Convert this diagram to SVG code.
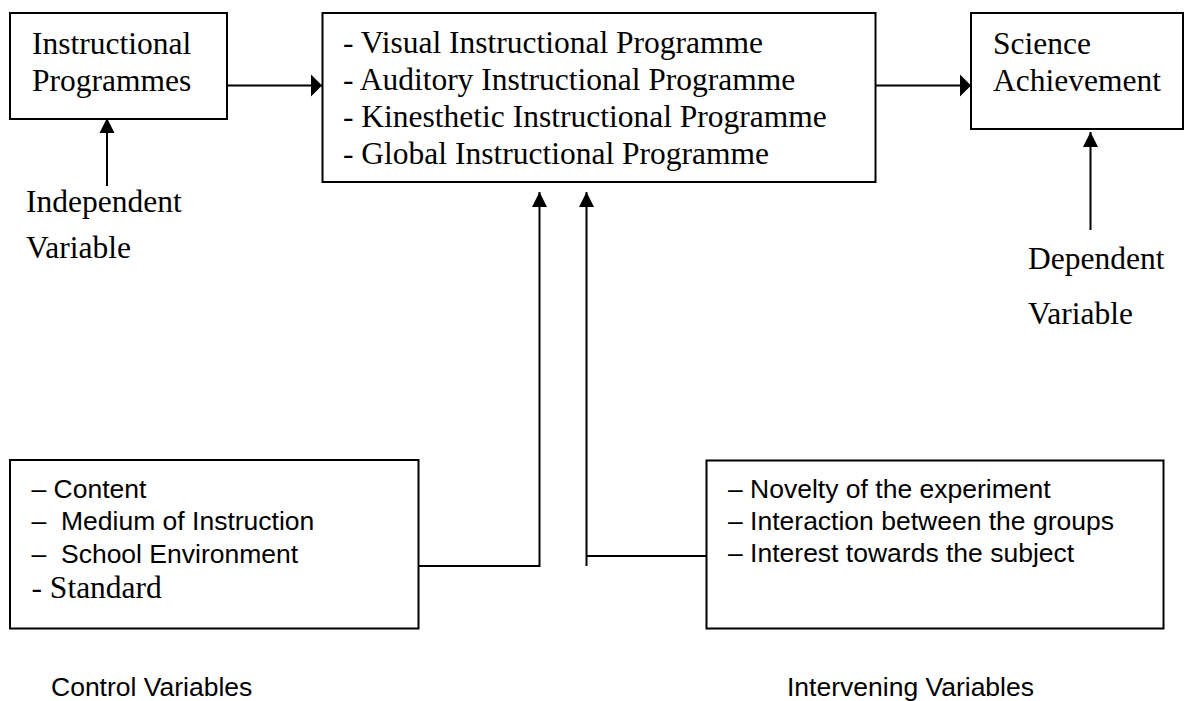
<svg xmlns="http://www.w3.org/2000/svg" width="1185" height="701" viewBox="0 0 1185 701">
<style>
.box{fill:#fff;stroke:#000;stroke-width:2}
.ln{fill:none;stroke:#000;stroke-width:2}
.serif{font-family:"Liberation Serif","Times New Roman",serif;font-size:31.5px;fill:#000}
.sans{font-family:"Liberation Sans",Arial,sans-serif;font-size:26.5px;fill:#000;white-space:pre}
</style>
<defs>
<marker id="mh" markerUnits="userSpaceOnUse" markerWidth="12" markerHeight="24" refX="11" refY="12" orient="auto"><path d="M0,1 L11,12 L0,23 Z" fill="#000"/></marker>
<marker id="mv" markerUnits="userSpaceOnUse" markerWidth="16" markerHeight="16" refX="15" refY="8" orient="auto"><path d="M0,0.5 L15,8 L0,15.5 Z" fill="#000"/></marker>
</defs>
<rect width="1185" height="701" fill="#fff"/>
<g id="connectors">
<line class="ln" x1="227" y1="85.5" x2="322" y2="85.5" marker-end="url(#mh)"/>
<line class="ln" x1="875" y1="85.5" x2="971" y2="85.5" marker-end="url(#mh)"/>
<line class="ln" x1="107" y1="186" x2="107" y2="118" marker-end="url(#mv)"/>
<line class="ln" x1="1090.5" y1="230" x2="1090.5" y2="132" marker-end="url(#mv)"/>
<polyline class="ln" points="418.5,566 539.5,566 539.5,192" marker-end="url(#mv)"/>
<line class="ln" x1="706.5" y1="556" x2="586.5" y2="556"/>
<line class="ln" x1="586.5" y1="566" x2="586.5" y2="192" marker-end="url(#mv)"/>
</g>
<g id="instructional-programmes">
<rect class="box" x="10" y="13" width="217" height="106"/>
<text class="serif" x="32" y="54">Instructional</text>
<text class="serif" x="32" y="91">Programmes</text>
</g>
<g id="programme-types">
<rect class="box" x="322.5" y="13" width="553" height="169"/>
<text class="serif" x="343" y="53">- Visual Instructional Programme</text>
<text class="serif" x="343" y="90">- Auditory Instructional Programme</text>
<text class="serif" x="343" y="127">- Kinesthetic Instructional Programme</text>
<text class="serif" x="343" y="164">- Global Instructional Programme</text>
</g>
<g id="science-achievement">
<rect class="box" x="971" y="13" width="212" height="116"/>
<text class="serif" x="993" y="54">Science</text>
<text class="serif" x="993" y="91">Achievement</text>
</g>
<g id="independent-variable">
<text class="serif" x="26" y="212">Independent</text>
<text class="serif" x="26" y="258">Variable</text>
</g>
<g id="dependent-variable">
<text class="serif" x="1028" y="269">Dependent</text>
<text class="serif" x="1028" y="324">Variable</text>
</g>
<g id="control-variables">
<rect class="box" x="10" y="460" width="408.5" height="168.5"/>
<text class="sans" x="31.5" y="498">– Content</text>
<text class="sans" x="31.5" y="530">–  Medium of Instruction</text>
<text class="sans" x="31.5" y="562.5">–  School Environment</text>
<text class="serif" x="31.5" y="598">- Standard</text>
<text class="sans" x="51" y="696">Control Variables</text>
</g>
<g id="intervening-variables">
<rect class="box" x="706.5" y="460.5" width="457" height="168"/>
<text class="sans" x="728" y="498">– Novelty of the experiment</text>
<text class="sans" x="728" y="530">– Interaction between the groups</text>
<text class="sans" x="728" y="562">– Interest towards the subject</text>
<text class="sans" x="787" y="696">Intervening Variables</text>
</g>
</svg>
